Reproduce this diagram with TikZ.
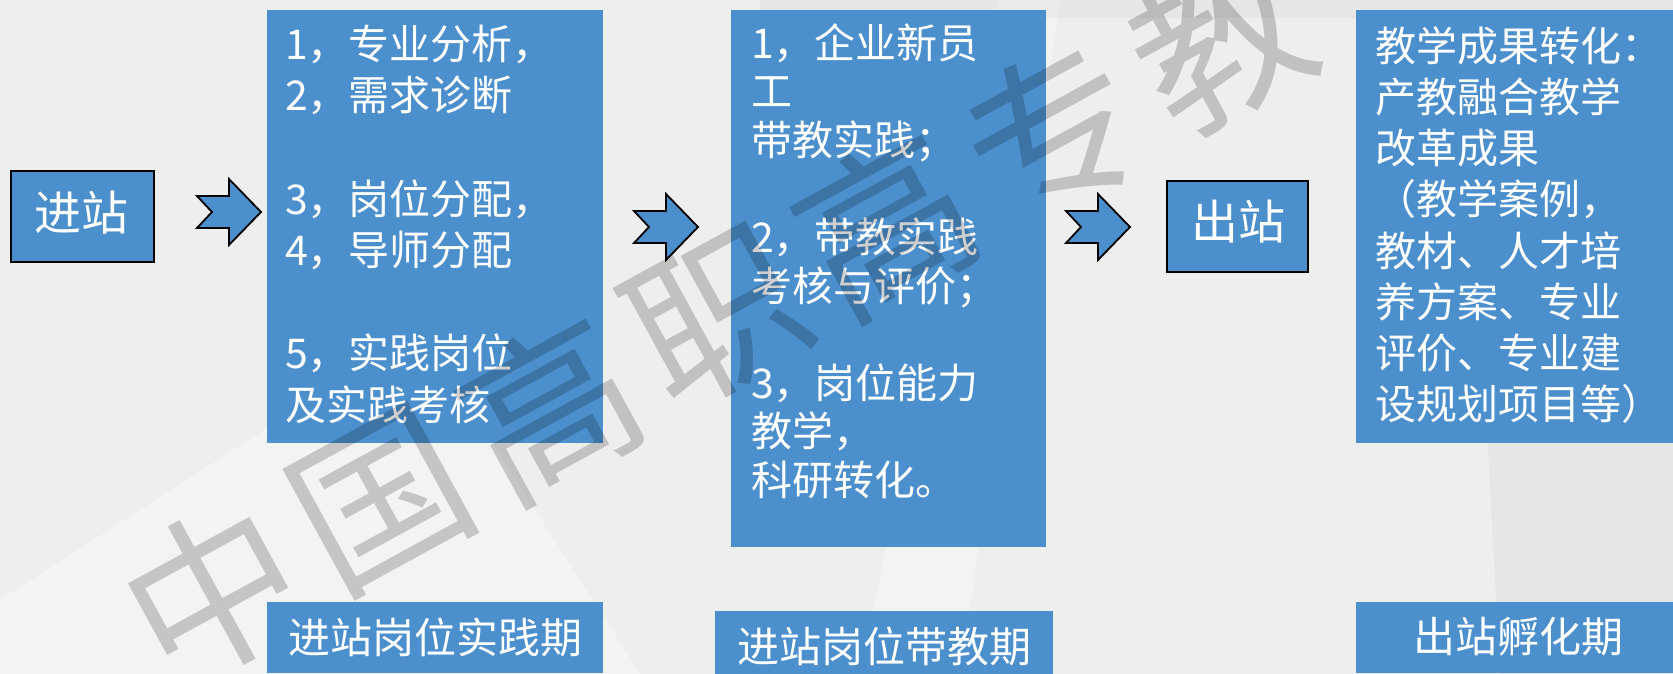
\documentclass[tikz,border=0pt]{standalone}
\usepackage{fontspec}
\setmainfont{Noto Sans CJK SC}
\definecolor{boxblue}{HTML}{4B8FCD}
\definecolor{bgray}{HTML}{EEEEEE}
\begin{document}
\begin{tikzpicture}[x=1pt,y=-1pt,
  panel/.style={fill=boxblue, draw=none, inner sep=0pt, minimum width=#1},
  framed/.style={fill=boxblue, draw=black, line width=2.5pt, inner sep=0pt},
  chev/.style={fill=boxblue, draw=black, line width=1.8pt, line join=miter},
  txtline/.style={anchor=base west, inner sep=0pt, text=white, font=\fontsize{41}{41}\selectfont},
  lbltxt/.style={inner sep=0pt, text=white, font=\fontsize{42}{42}\selectfont},
  bigtxt/.style={inner sep=0pt, text=white, font=\fontsize{47}{47}\selectfont},
  wm/.style={inner sep=0pt, rotate=28.7, text=black, text opacity=0.19, font=\fontsize{172}{172}\selectfont}
]
\useasboundingbox (0,0) rectangle (1673,674);
\fill[bgray] (0,0) rectangle (1673,674);
% soft background streaks
\fill[white, opacity=0.35] (0,674) -- (0,600) -- (420,330) -- (640,674) -- cycle;
\fill[white, opacity=0.30] (860,674) -- (1000,0) -- (1060,0) -- (960,674) -- cycle;
\fill[black, opacity=0.03] (1480,300) -- (1673,200) -- (1673,674) -- (1500,674) -- cycle;
\fill[black, opacity=0.03] (760,0) -- (1673,0) -- (1673,18) -- (760,18) -- cycle;

% panels
\node[panel=336pt, minimum height=433pt] (pA) at (435,226.5) {};
\node[panel=315pt, minimum height=537pt] (pB) at (888.5,278.5) {};
\node[panel=317pt, minimum height=433pt] (pC) at (1514.5,226.5) {};

% phase labels
\node[panel=336pt, minimum height=71pt] (lA) at (435,637.5) {};
\node[panel=338pt, minimum height=63pt] (lB) at (884,642.5) {};
\node[panel=317pt, minimum height=71pt] (lC) at (1514.5,637.5) {};
\node[lbltxt] (lAt) at (435,637) {进站岗位实践期};
\node[lbltxt] (lBt) at (884,646) {进站岗位带教期};
\node[lbltxt] (lCt) at (1518,637) {出站孵化期};

% entry / exit boxes
\node[framed, minimum width=143pt, minimum height=91pt] (in) at (82.5,216.5) {};
\node[bigtxt] (intxt) at (81,212.5) {进站};
\node[framed, minimum width=141pt, minimum height=91pt] (out) at (1237.5,226.5) {};
\node[bigtxt] (outtxt) at (1238,222) {出站};

% chevron arrows
\foreach \ax/\ay in {197/212, 634/227, 1066/227}
  \draw[chev, shift={(\ax,\ay)}] (0,-16) -- (32,-16) -- (32,-33) -- (64,0) -- (32,33) -- (32,16) -- (0,16) -- (15,0) -- cycle;

% panel A text
\foreach \t/\yy [count=\i] in {1，专业分析，/59.5, 2，需求诊断/111, 3，岗位分配，/214, 4，导师分配/265.5, 5，实践岗位/368.5, 及实践考核/420}
  \node[txtline] (ta\i) at (285,\yy) {\t};

% panel B text
\foreach \t/\yy [count=\i] in {1，企业新员/58.5, 工/107, 带教实践；/155.5, 2，带教实践/252.5, 考核与评价；/301, 3，岗位能力/398, 教学，/446.5, 科研转化。/495}
  \node[txtline] (tb\i) at (751,\yy) {\t};

% panel C text
\foreach \t/\yy [count=\i] in {教学成果转化：/61.5, 产教融合教学/112.5, 改革成果/163.5, （教学案例，/214.5, 教材、人才培/266, 养方案、专业/317, 评价、专业建/368, 设规划项目等）/419}
  \node[txtline] (tc\i) at (1375,\yy) {\t};

% watermark
\foreach \c [count=\i from 0] in {中,国,高,职,高,专,教}
  \node[wm] (wm\i) at ({213+168*\i},{593-92*\i}) {\c};
\end{tikzpicture}
\end{document}
